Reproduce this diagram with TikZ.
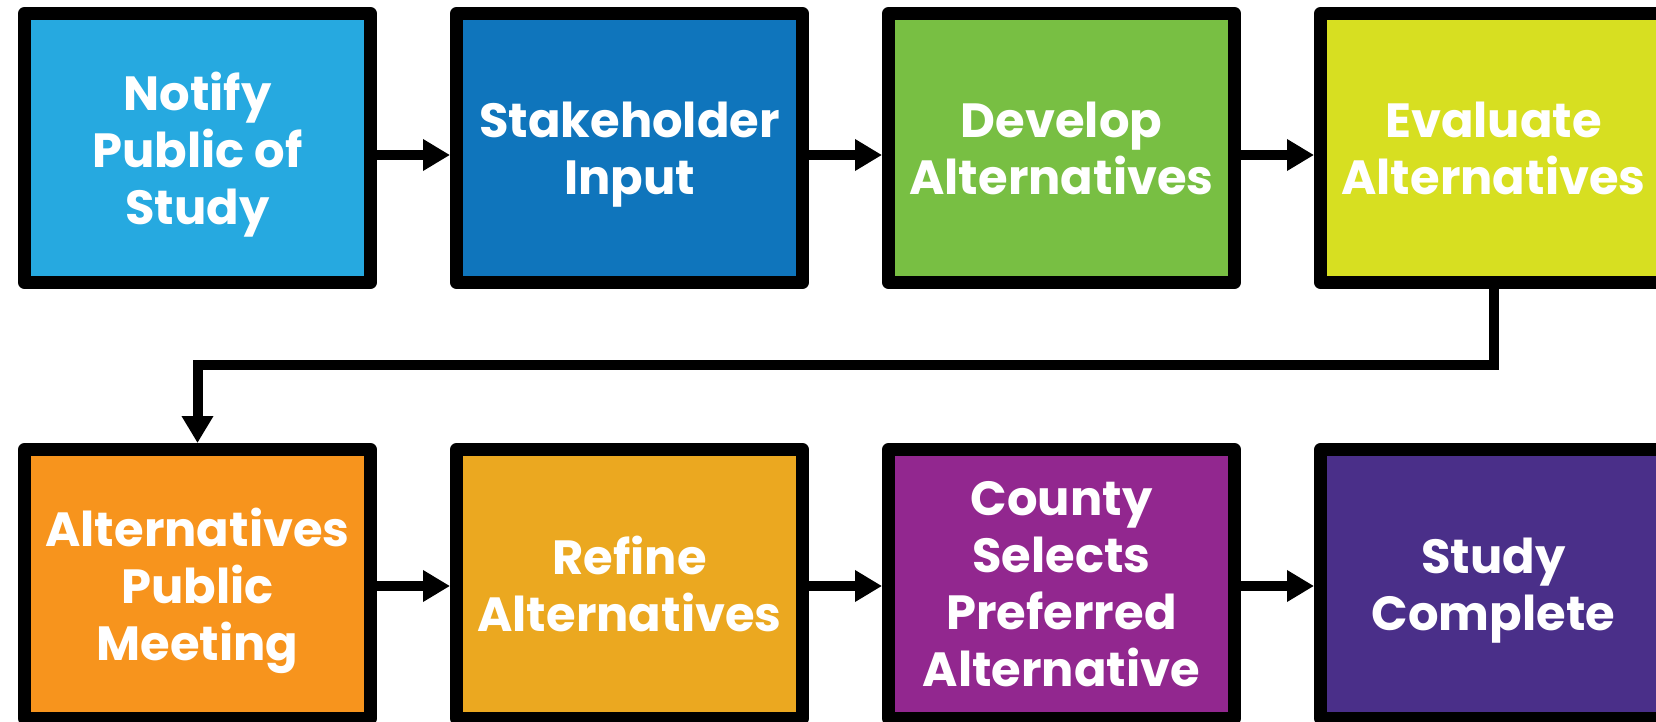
\documentclass[tikz,border=0pt]{standalone}
\usepackage{fontspec}
\setmainfont{Poppins}
\usetikzlibrary{arrows.meta}
\definecolor{cA}{HTML}{26A9E0}
\definecolor{cB}{HTML}{0F75BC}
\definecolor{cC}{HTML}{78BF43}
\definecolor{cD}{HTML}{D7DF21}
\definecolor{cE}{HTML}{F7941D}
\definecolor{cF}{HTML}{EBA820}
\definecolor{cG}{HTML}{92278F}
\definecolor{cH}{HTML}{4A2F89}
\begin{document}
\begin{tikzpicture}[x=1pt,y=-1pt,
  stepbox/.style={draw=black, line width=13pt, line join=round,
    minimum width=346pt, minimum height=269pt, inner sep=0pt,
    text=white, align=center, text depth=0pt,
    font=\fontsize{48}{57}\selectfont\bfseries},
  conn/.style={line width=10pt, -{Triangle[length=27pt,width=30pt]}}]
\useasboundingbox (0,0) rectangle (1656,722);
\clip (0,0) rectangle (1656,722);
\fill[white] (0,0) rectangle (1656,722);
\node[stepbox, fill=cA] (b1) at (197.5,148) {Notify\\Public of\\Study};
\node[stepbox, fill=cB] (b2) at (629.5,148) {Stakeholder\\Input};
\node[stepbox, fill=cC] (b3) at (1061.5,148) {Develop\\Alternatives};
\node[stepbox, fill=cD] (b4) at (1493.5,148) {Evaluate\\Alternatives};
\node[stepbox, fill=cE] (b5) at (197.5,584) {Alternatives\\Public\\Meeting};
\node[stepbox, fill=cF] (b6) at (629.5,584) {Refine\\Alternatives};
\node[stepbox, fill=cG] (b7) at (1061.5,584) {County\\Selects\\Preferred\\Alternative};
\node[stepbox, fill=cH] (b8) at (1493.5,584) {Study\\Complete};
\draw[conn] ([yshift=-7pt]b1.east) -- ([yshift=-7pt]b2.west);
\draw[conn] ([yshift=-7pt]b2.east) -- ([yshift=-7pt]b3.west);
\draw[conn] ([yshift=-7pt]b3.east) -- ([yshift=-7pt]b4.west);
\draw[conn] ([yshift=-2pt]b5.east) -- ([yshift=-2pt]b6.west);
\draw[conn] ([yshift=-2pt]b6.east) -- ([yshift=-2pt]b7.west);
\draw[conn] ([yshift=-2pt]b7.east) -- ([yshift=-2pt]b8.west);
\coordinate (turn) at (1493.5,364.5);
\draw[conn] (b4.south) -- (turn) -| (b5.north);
\end{tikzpicture}
\end{document}
